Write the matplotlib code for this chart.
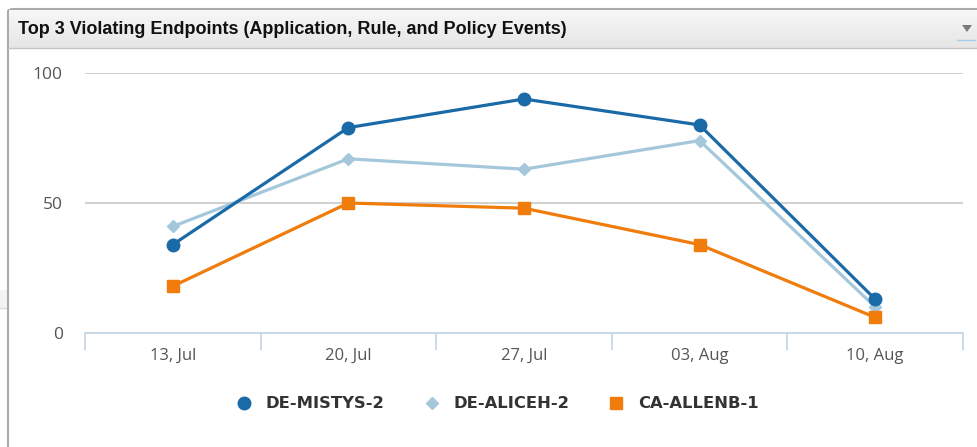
import matplotlib.pyplot as plt
import numpy as np
from matplotlib.patches import FancyBboxPatch, Rectangle, Polygon
from matplotlib.colors import LinearSegmentedColormap

# weekly violation counts per endpoint
weeks = ["13, Jul", "20, Jul", "27, Jul", "03, Aug", "10, Aug"]
mistys = [34, 79, 90, 80, 13]
aliceh = [41, 67, 63, 74, 10]
allenb = [18, 50, 48, 34, 6]

W, H = 978, 447
fig = plt.figure(figsize=(W / 100, H / 100), dpi=100)

def fx(px):
    return px / W

def fy(py):
    return 1 - py / H

# panel frame + header bar
fig.add_artist(Rectangle((0, fy(308)), fx(7), fy(290) - fy(308), transform=fig.transFigure,
                         facecolor="#f4f4f4", edgecolor="none", zorder=-2))
fig.add_artist(plt.Line2D([0, fx(7)], [fy(308), fy(308)], color="#d8d8d8", lw=1, zorder=-2))
fig.add_artist(FancyBboxPatch((fx(8), fy(460)), fx(990 - 8), fy(9) - fy(460),
                              boxstyle="round,pad=0,rounding_size=0.006",
                              transform=fig.transFigure, facecolor="white",
                              edgecolor="#aaaaaa", lw=1.5, zorder=-1))
hdr = fig.add_axes([fx(9), fy(48), fx(W - 9), fy(10) - fy(48)])
grad = np.linspace(0, 1, 50).reshape(-1, 1)
hdr.imshow(grad, aspect="auto", cmap=LinearSegmentedColormap.from_list("hdr", ["#f7f7f7", "#e6e6e6"]),
           extent=[0, 1, 0, 1], origin="upper")
hdr.set_xlim(0, 1)
hdr.set_ylim(0, 1)
hdr.axis("off")
fig.add_artist(plt.Line2D([fx(8), 1], [fy(48), fy(48)], color="#c4c4c4", lw=1))
fig.text(fx(18), fy(29), "Top 3 Violating Endpoints (Application, Rule, and Policy Events)",
         fontfamily="Liberation Sans", fontweight="bold", fontsize=13, color="#111111",
         va="center", ha="left")
fig.add_artist(Polygon([[fx(962), fy(25)], [fx(972), fy(25)], [fx(967), fy(32)]],
                       closed=True, transform=fig.transFigure, facecolor="#7a7a7a",
                       edgecolor="none", zorder=3))
fig.add_artist(plt.Line2D([fx(957), fx(975)], [fy(40), fy(40)], color="#a8cbe8", lw=1, zorder=3))

# chart
ax = fig.add_axes([fx(85), fy(333), fx(963 - 85), fy(73) - fy(333)])
ax.set_zorder(2)
ax.patch.set_alpha(0)
x = np.arange(len(weeks))
ax.plot(x, mistys, color="#1a6aa8", lw=2.3, marker="o", ms=9, label="DE-MISTYS-2",
        clip_on=False, zorder=4)
ax.plot(x, aliceh, color="#a4c7dc", lw=2.3, marker="D", ms=6.5, label="DE-ALICEH-2",
        clip_on=False, zorder=3)
ax.plot(x, allenb, color="#f07c0c", lw=2.3, marker="s", ms=8.5, label="CA-ALLENB-1",
        clip_on=False, zorder=5)

ax.set_xlim(-0.5, len(weeks) - 0.5)
ax.set_ylim(0, 100)
ax.set_yticks([0, 50, 100])
ax.yaxis.grid(True, color="#c8c8c8", lw=1.2)
ax.set_axisbelow(True)
for s in ["top", "right", "left"]:
    ax.spines[s].set_visible(False)
ax.spines["bottom"].set_color("#c4d4e4")
ax.spines["bottom"].set_linewidth(1.2)
ax.set_xticks(x)
ax.set_xticklabels(weeks)
ax.set_xticks(np.arange(len(weeks) + 1) - 0.5, minor=True)
ax.tick_params(axis="x", which="major", length=0, pad=11, labelsize=12, labelcolor="#555555")
ax.tick_params(axis="x", which="minor", length=12, width=1.2, color="#c4d4e4")
ax.tick_params(axis="y", length=0, pad=16, labelsize=12.5, labelcolor="#555555")
for lbl in ax.get_xticklabels() + ax.get_yticklabels():
    lbl.set_fontfamily("Open Sans")

leg = fig.legend(loc="center", bbox_to_anchor=(fx(498), fy(404)), ncol=3, frameon=False,
                 handlelength=0.8, handletextpad=0.9, columnspacing=2.5,
                 prop={"family": "DejaVu Sans", "weight": "bold", "size": 11.8})
for h in leg.legend_handles:
    h.set_linestyle("none")
for t in leg.get_texts():
    t.set_color("#333333")

fig.savefig("out.png", dpi=100)
